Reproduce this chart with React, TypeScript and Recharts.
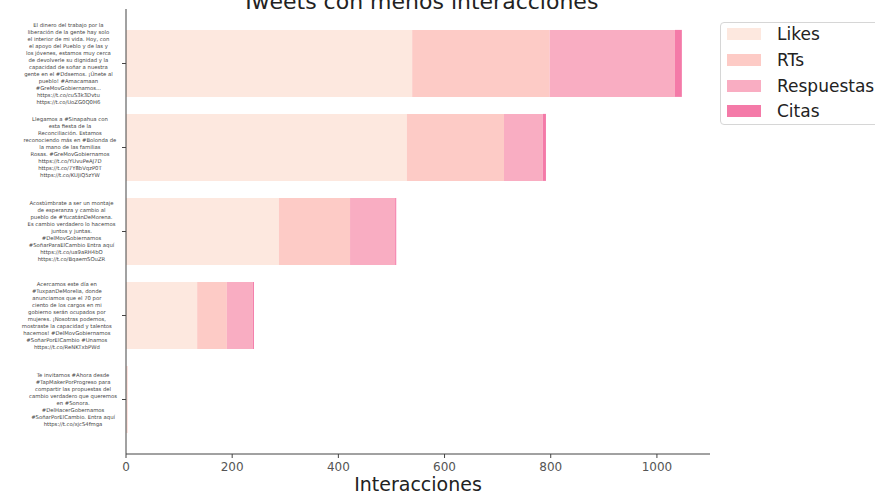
import React from "react";
import { BarChart, Bar, XAxis, YAxis } from "recharts";

// tick labels (tweet text, wrapped like the original)
const tweetLabels = [
  "El dinero del trabajo por la\nliberación de la gente hay solo\nel interior de mi vida. Hoy, con\nel apoyo del Pueblo y de las y\nlos jóvenes, estamos muy cerca\nde devolverle su dignidad y la\ncapacidad de soñar a nuestra\ngente en el #Ddsemos. ¡Únete al\npueblo! #Amacamaan\n#GreMovGobiernamos...\nhttps://t.co/cuS3k3Dvtu\nhttps://t.co/UoZG0Q0H6",
  "Llegamos a #Sinapahua con\nesta fiesta de la\nReconciliación. Estamos\nreconociendo más en #Bolonda de\nla mano de las familias\nRosas. #GreMovGobiernamos\nhttps://t.co/YUvuPeAJ7D\nhttps://t.co/7Y8bVqzP0T\nhttps://t.co/KUJiQ5zYW",
  "Acostúmbrate a ser un montaje\nde esperanza y cambio al\npueblo de #YucatánDeMorena.\nEs cambio verdadero lo hacemos\njuntos y juntas.\n#DelMovGobiernamos\n#SoñarParaElCambio Entra aquí\nhttps://t.co/ua9aRH4bO\nhttps://t.co/BqaemSOuZR",
  "Acercamos este día en\n#TuxpanDeMorelia, donde\nanunciamos que el 70 por\nciento de los cargos en mi\ngobierno serán ocupados por\nmujeres. ¡Nosotras podemos,\nmostraste la capacidad y talentos\nhacemos! #DelMovGobiernamos\n#SoñarPorElCambio #Unamos\nhttps://t.co/ReNKTxbPWd",
  "Te invitamos #Ahora desde\n#TapMakerPorProgreso para\ncompartir las propuestas del\ncambio verdadero que queremos\nen #Sonora.\n#DelHacerGobernamos\n#SoñarPorElCambio. Entra aquí\nhttps://t.co/xjcS4fmga",
];

const likes = [539, 529, 288, 134, 2];
const rts = [259, 183, 134, 56, 1];
const respuestas = [236, 73, 85, 49, 0];
const citas = [13, 6, 2, 2, 0];

const xTicks = [0, 200, 400, 600, 800, 1000];

const series = [
  { key: "likes", name: "Likes", color: "#fde8df" },
  { key: "rts", name: "RTs", color: "#fdcbc6" },
  { key: "respuestas", name: "Respuestas", color: "#f9adc2" },
  { key: "citas", name: "Citas", color: "#f47aa8" },
];

const data = tweetLabels.map((label, i) => ({
  label,
  likes: likes[i],
  rts: rts[i],
  respuestas: respuestas[i],
  citas: citas[i],
}));

const font = "DejaVu Sans";

function TweetTick(props: any) {
  const { x, y, payload } = props;
  const lines: string[] = String(payload.value).split("\n");
  const maxLen = Math.max(...lines.map((l) => l.length));
  const cx = x - maxLen * 1.55;
  const lh = 7;
  const startY = y - ((lines.length - 1) * lh) / 2;
  return (
    <text textAnchor="middle" fontSize={5.3} fill="#444" fontFamily={font}>
      {lines.map((l, i) => (
        <tspan key={i} x={cx} y={startY + i * lh} dy="0.35em">
          {l}
        </tspan>
      ))}
    </text>
  );
}

export default function App() {
  return (
    <div style={{ position: "absolute", left: 0, top: 0, width: 875, height: 496, background: "#fff", fontFamily: font }}>
      <BarChart
        width={875}
        height={496}
        data={data}
        layout="vertical"
        barCategoryGap="10%"
        margin={{ top: 9, right: 165, left: 0, bottom: 0 }}
      >
        <XAxis
          type="number"
          domain={[0, 1100]}
          ticks={xTicks}
          height={42}
          tickSize={4}
          tickMargin={4}
          axisLine={{ stroke: "#444" }}
          tickLine={{ stroke: "#444" }}
          tick={{ fontSize: 12, fill: "#555", fontFamily: font }}
          label={{ value: "Interacciones", position: "insideBottom", offset: 5, fontSize: 19, fill: "#222", fontFamily: font }}
        />
        <YAxis
          type="category"
          dataKey="label"
          width={126}
          interval={0}
          tickSize={4}
          tickMargin={4}
          padding={{ top: 12.5, bottom: 12.5 }}
          axisLine={{ stroke: "#444" }}
          tickLine={{ stroke: "#444" }}
          tick={<TweetTick />}
        />
        {series.map((s) => (
          <Bar key={s.key} dataKey={s.key} name={s.name} stackId="a" fill={s.color} isAnimationActive={false} />
        ))}
      </BarChart>

      <svg width={875} height={20} style={{ position: "absolute", left: 0, top: 0 }}>
        <text x={420} y={9} textAnchor="middle" fontSize={22} fill="#222" fontFamily={font}>
          Tweets con menos interacciones
        </text>
      </svg>

      <div
        style={{
          position: "absolute",
          left: 720,
          top: 22,
          width: 170,
          border: "1px solid #d6d6d6",
          borderRadius: 4,
          background: "rgba(255,255,255,0.85)",
          paddingBottom: 2,
        }}
      >
        {series.map((s, i) => (
          <div
            key={s.key}
            style={{
              display: "flex",
              alignItems: "center",
              height: 22,
              marginBottom: i < series.length - 1 ? 3.8 : 0,
            }}
          >
            <div style={{ width: 34, height: 12, background: s.color, marginLeft: 6 }} />
            <span style={{ marginLeft: 16, fontSize: 17, color: "#222", fontFamily: font }}>{s.name}</span>
          </div>
        ))}
      </div>
    </div>
  );
}
